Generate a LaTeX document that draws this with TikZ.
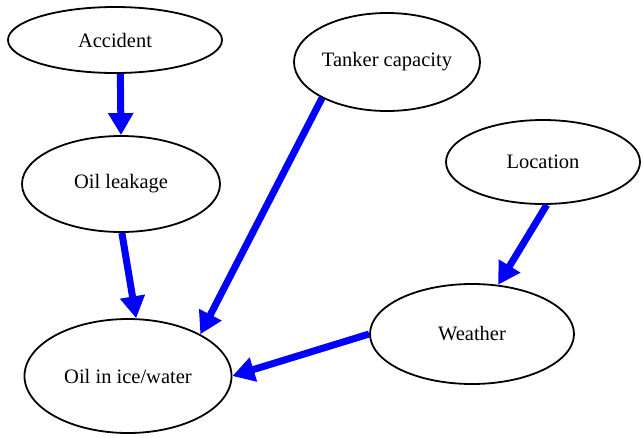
\documentclass[tikz,border=0pt]{standalone}
\usepackage{fontspec}
\setmainfont{Liberation Serif}
\usetikzlibrary{shapes.geometric}
\usetikzlibrary{arrows.meta}

\begin{document}
\begin{tikzpicture}[x=1pt,y=-1pt,
        every node/.style={draw,ellipse,line width=1.8pt,inner sep=0pt,font=\fontsize{20.5}{24}\selectfont},
        flow/.style={draw=blue,line width=7pt,-{Triangle[length=22pt,width=24pt]}}]
                \useasboundingbox (0,0) rectangle (644,437);
                \node[minimum width=214pt,minimum height=66pt] (acc) at (115,40) {Accident};
                \node[minimum width=198pt,minimum height=96pt] (leak) at (121,184) {Oil leakage};
                \node[minimum width=207pt,minimum height=114pt] (oil) at (128,376) {Oil in ice/water};
                \node[minimum width=186pt,minimum height=98pt] (tank) at (387,62) {Tanker capacity};
                \node[minimum width=194pt,minimum height=84pt] (loc) at (543,162) {Location};
                \node[minimum width=204pt,minimum height=100pt] (wea) at (472,334) {Weather};

                \foreach \a/\b in {acc.279/leak.90, leak.271/oil.82, tank.209/oil.30, loc.275/wea.62, wea.180/oil.0}{
                    \draw[flow] (\a) -- (\b);
                }
            \end{tikzpicture}
\end{document}
